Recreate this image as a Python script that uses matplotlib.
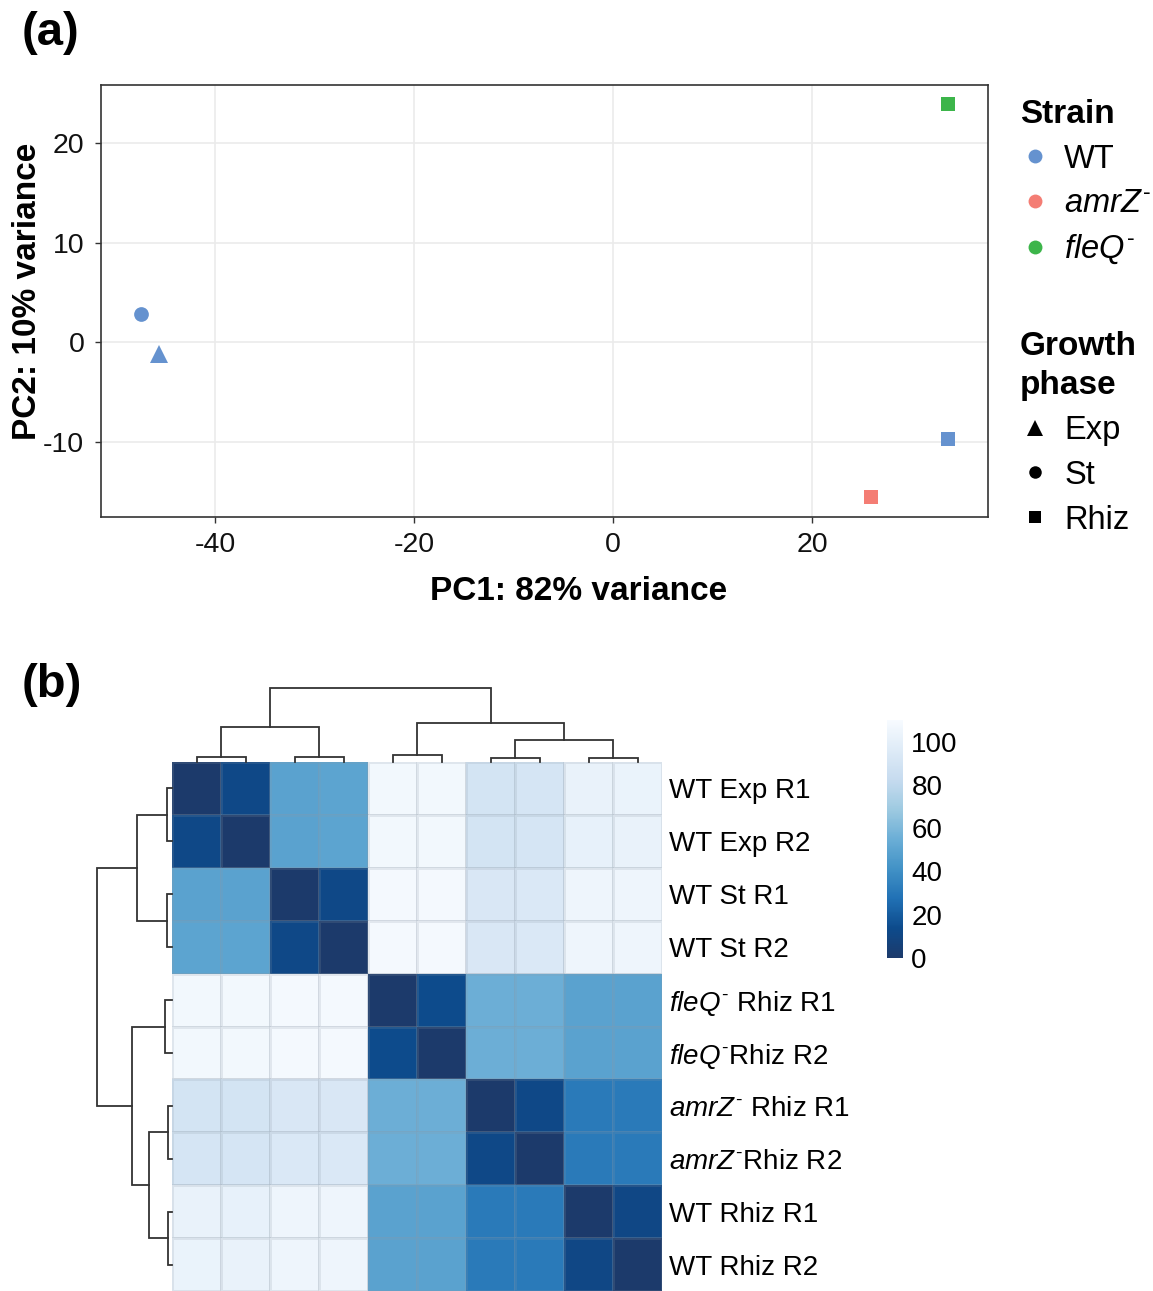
import numpy as np
import matplotlib
matplotlib.use("Agg")
import matplotlib.pyplot as plt
from matplotlib.colors import LinearSegmentedColormap
from matplotlib.lines import Line2D

plt.rcParams['font.family'] = ['Liberation Sans', 'DejaVu Sans']
plt.rcParams['mathtext.fontset'] = 'custom'
plt.rcParams['mathtext.rm'] = 'Liberation Sans'
plt.rcParams['mathtext.it'] = 'Liberation Sans:italic'
plt.rcParams['mathtext.bf'] = 'Liberation Sans:bold'

# ---------------- data: PCA ----------------
pc1 = [-45.7, -47.5, 33.7, 25.9, 33.7]
pc2 = [-1.15, 2.8, -9.7, -15.5, 23.9]
strain = ['WT', 'WT', 'WT', 'amrZ', 'fleQ']
phase = ['Exp', 'St', 'Rhiz', 'Rhiz', 'Rhiz']
xticks_a = [-40, -20, 0, 20]
yticks_a = [-10, 0, 10, 20]

strain_levels = ['WT', 'amrZ', 'fleQ']
strain_labels = ['WT', r'$\mathit{amrZ}^{\text{-}}$', r'$\mathit{fleQ}^{\text{-}}$']
phase_levels = ['Exp', 'St', 'Rhiz']

# ---------------- data: sample distance heatmap ----------------
sample_labels = ['WT Exp R1', 'WT Exp R2', 'WT St R1', 'WT St R2',
                 r'$\mathit{fleQ}^{\text{-}}$ Rhiz R1', r'$\mathit{fleQ}^{\text{-}}$Rhiz R2',
                 r'$\mathit{amrZ}^{\text{-}}$ Rhiz R1', r'$\mathit{amrZ}^{\text{-}}$Rhiz R2',
                 'WT Rhiz R1', 'WT Rhiz R2']
dist = np.array([
    [0, 12, 49, 50, 107, 107, 90, 91, 102, 103],
    [12, 0, 49, 50, 107, 107, 90, 91, 101, 102],
    [49, 49, 0, 12, 108, 108, 93, 94, 105, 105],
    [50, 50, 12, 0, 108, 108, 93, 94, 105, 105],
    [107, 107, 108, 108, 0, 14, 55, 55, 49, 49],
    [107, 107, 108, 108, 14, 0, 55, 55, 49, 49],
    [90, 90, 93, 93, 55, 55, 0, 12, 31, 31],
    [91, 91, 94, 94, 55, 55, 12, 0, 31, 31],
    [102, 101, 105, 105, 49, 49, 31, 31, 0, 11],
    [103, 102, 105, 105, 49, 49, 31, 31, 11, 0],
])
cbar_ticks = [0, 20, 40, 60, 80, 100]
# hierarchical merges (child_a, child_b, relative height); ids >= 10 are merged clusters
merges = [
    (0, 1, 0.062),
    (2, 3, 0.066),
    (4, 5, 0.094),
    (6, 7, 0.056),
    (8, 9, 0.056),
    (13, 14, 0.30),
    (10, 11, 0.47),
    (12, 15, 0.53),
    (16, 17, 1.0),
]

# ---------------- styles ----------------
strain_colors = {'WT': '#6592cf', 'amrZ': '#f47d74', 'fleQ': '#3cb54a'}
phase_markers = {'Exp': '^', 'St': 'o', 'Rhiz': 's'}
phase_ms = {'Exp': 13, 'St': 10.6, 'Rhiz': 10.3}

W, H = 1153, 1291
fig = plt.figure(figsize=(W / 100, H / 100), dpi=100)


def px_rect(l, t, r, b):
    return [l / W, 1 - b / H, (r - l) / W, (b - t) / H]


# ================= panel (a) =================
ax = fig.add_axes(px_rect(101, 85, 988, 517))
ax.set_xlim(-51.5, 37.7)
ax.set_ylim(-17.5, 25.8)
ax.set_xticks(xticks_a)
ax.set_yticks(yticks_a)
ax.set_xticklabels([str(v) for v in xticks_a])
ax.set_yticklabels([str(v) for v in yticks_a])
ax.grid(True, color='#ebebeb', linewidth=1.2)
ax.set_axisbelow(True)
for s in ax.spines.values():
    s.set_color('#333333')
    s.set_linewidth(1.2)
ax.tick_params(axis='both', length=4, width=1, color='#333333',
               labelsize=20.5, labelcolor='#111111')
ax.tick_params(axis='x', pad=7)
ax.tick_params(axis='y', pad=8)

for x, y, st, ph in zip(pc1, pc2, strain, phase):
    ax.plot(x, y, linestyle='none', marker=phase_markers[ph],
            markersize=phase_ms[ph], color=strain_colors[st],
            markeredgewidth=0)

ax.set_xlabel('PC1: 82% variance', fontsize=24, fontweight='bold', va='center')
ax.set_ylabel('PC2: 10% variance', fontsize=24, fontweight='bold', va='center')
ax.xaxis.set_label_coords((579 - 101) / 887, -(591 - 517) / 432)
ax.yaxis.set_label_coords(-(101 - 28) / 887, (517 - 291) / 432)

fig.text(22 / W, 1 - 33 / H, '(a)', fontsize=34, fontweight='bold',
         ha='left', va='center')

# legends
h_strain = [Line2D([], [], linestyle='none', marker='o', markersize=10,
                   color=strain_colors[s], markeredgewidth=0) for s in strain_levels]
leg1 = fig.legend(h_strain, strain_labels, loc='upper left',
                  bbox_to_anchor=(1020 / W, 1 - 99 / H), frameon=False,
                  title='Strain', fontsize=23.5, handlelength=0.9,
                  handletextpad=0.45, labelspacing=0.42, borderpad=0,
                  borderaxespad=0,
                  title_fontproperties={'weight': 'bold', 'size': 24})
leg1._legend_box.align = 'left'

h_phase = [Line2D([], [], linestyle='none', marker=phase_markers[p],
                  markersize=9 if p != 'Exp' else 11.5, color='black',
                  markeredgewidth=0) for p in phase_levels]
leg2 = fig.legend(h_phase, phase_levels, loc='upper left',
                  bbox_to_anchor=(1020 / W, 1 - 331 / H), frameon=False,
                  title='Growth\nphase', fontsize=23.5, handlelength=0.9,
                  handletextpad=0.45, labelspacing=0.42, borderpad=0,
                  borderaxespad=0,
                  title_fontproperties={'weight': 'bold', 'size': 24})
leg2._legend_box.align = 'left'
leg2.get_title().set_linespacing(1.35)

# ================= panel (b) =================
fig.text(22 / W, 1 - 685 / H, '(b)', fontsize=34, fontweight='bold',
         ha='left', va='center')

cmap = LinearSegmentedColormap.from_list('blues_r', [
    '#1c3a6b', '#0d4b8c', '#2171b5', '#4292c6', '#6baed6',
    '#9ecae1', '#c6dbef', '#deebf7', '#f7fbff'])
vmin, vmax = 0, 110

n = len(sample_labels)
axh = fig.add_axes(px_rect(172, 762, 662, 1291))
mesh = axh.pcolormesh(np.arange(n + 1), np.arange(n + 1), dist, cmap=cmap,
                      vmin=vmin, vmax=vmax, edgecolors=(0.55, 0.6, 0.65, 0.18),
                      linewidth=0.8)
axh.set_xlim(0, n)
axh.set_ylim(n, 0)
axh.set_xticks([])
axh.yaxis.tick_right()
axh.set_yticks(np.arange(n) + 0.5)
axh.set_yticklabels(sample_labels, fontsize=20)
axh.tick_params(axis='y', length=0, pad=5)
for s in axh.spines.values():
    s.set_visible(False)


def dendro_coords(merges, n):
    pos = {i: i + 0.5 for i in range(n)}
    hgt = {i: 0.0 for i in range(n)}
    segs = []
    for k, (a, b, h) in enumerate(merges):
        xa, xb = pos[a], pos[b]
        segs.append(([xa, xa, xb, xb], [hgt[a], h, h, hgt[b]]))
        pos[n + k] = (xa + xb) / 2
        hgt[n + k] = h
    return segs


segs = dendro_coords(merges, n)
top_h = max(m[2] for m in merges)

axc = fig.add_axes(px_rect(172, 688, 662, 762))
for xs, ys in segs:
    axc.plot(xs, ys, color='#333333', linewidth=1.3, clip_on=False,
             solid_joinstyle='miter')
axc.set_xlim(0, n)
axc.set_ylim(0, top_h)
axc.axis('off')

axr = fig.add_axes(px_rect(97, 762, 172, 1291))
for xs, ys in segs:
    axr.plot(ys, xs, color='#333333', linewidth=1.3, clip_on=False,
             solid_joinstyle='miter')
axr.set_xlim(top_h, 0)
axr.set_ylim(n, 0)
axr.axis('off')

cax = fig.add_axes(px_rect(887, 720, 903, 958))
cb = fig.colorbar(mesh, cax=cax, ticks=cbar_ticks)
cb.outline.set_visible(False)
cb.ax.tick_params(length=0, labelsize=20, pad=6)

fig.savefig('out.png', dpi=100)
